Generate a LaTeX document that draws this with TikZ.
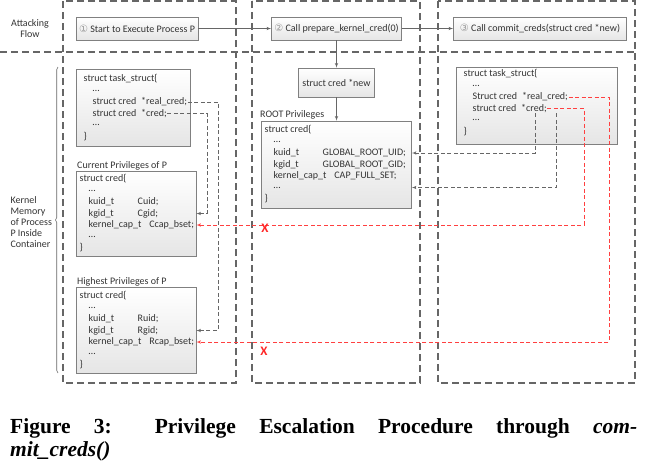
\documentclass[tikz,border=0pt]{standalone}
\usepackage{fontspec}
\setmainfont{Carlito}
\newfontfamily\circfont{DejaVu Sans}
\newfontfamily\capfont{Liberation Serif}
\usetikzlibrary{arrows,positioning,decorations.pathreplacing}
\newcommand{\credfield}[2]{\makebox[49pt][l]{#1}#2}

\begin{document}
\begin{tikzpicture}
  [x=1pt, y=-1pt, every node/.style={font=\fontsize{10}{11.2}\selectfont, text=black!80}]
  \tikzset{edge/.style = {> = latex', ->, draw=black!60, line width=0.6pt},
           ptr/.style = {edge, dash pattern=on 4pt off 2.5pt},
           hack/.style = {ptr, draw=red!75},
           lane/.style = {draw=black!60, line width=1.3pt, dash pattern=on 7pt off 4pt},
           box/.style = {draw=black!50, line width=0.6pt, top color=white, bottom color=black!10, inner sep=0pt},
           row/.style = {anchor=west, inner sep=0.5pt},
           cut/.style = {font=\bfseries\fontsize{13}{13}\selectfont, text=red!85, inner sep=0pt},
           caption/.style = {anchor=base west, inner sep=0pt, text=black, font=\capfont\bfseries\fontsize{21.5}{24}\selectfont}}
  \useasboundingbox (0,0) rectangle (647,467);

  \draw[lane] (63,1) rectangle (236,383);
  \draw[lane] (252,1) rectangle (420,383);
  \draw[lane] (438,1) rectangle (635,383);
  \draw[lane] (0,52) -- (637,52);

  \node[align=center] (flow) at (30,28.5) {Attacking\\Flow};
  \node[box, minimum width=122pt, minimum height=23pt] (s1) at (137,28.5) {{\circfont\color{black!40}①} Start to Execute Process P};
  \node[box, minimum width=130pt, minimum height=23pt] (s2) at (336.5,28.5) {{\circfont\color{black!40}②} Call prepare\_kernel\_cred(0)};
  \node[box, minimum width=173pt, minimum height=23pt] (s3) at (540,28.5) {{\circfont\color{black!40}③} Call commit\_creds(struct cred *new)};

  \node[align=left, anchor=west] (mem) at (7,222) {Kernel\\Memory\\of Process\\P Inside\\Container};
  \draw[black!60, line width=0.6pt, decorate, decoration={brace, amplitude=2.5pt}] (58,373) -- (58,67);

  \node[box, minimum width=114pt, minimum height=77pt] (tl) at (133,107.5) {};
  \node[anchor=west, inner sep=0pt] (curlbl) at (77,166) {Current Privileges of P};
  \node[box, minimum width=120pt, minimum height=85pt] (cur) at (136,213.5) {};
  \node[anchor=west, inner sep=0pt] (hilbl) at (77,282) {Highest Privileges of P};
  \node[box, minimum width=120pt, minimum height=86pt] (hi) at (136,330) {};
  \node[box, minimum width=76pt, minimum height=29pt] (new) at (336.5,82.5) {struct cred *new};
  \node[anchor=west, inner sep=0pt] (rootlbl) at (260,115) {ROOT Privileges};
  \node[box, minimum width=150pt, minimum height=87pt] (root) at (336.5,164.5) {};
  \node[box, minimum width=161pt, minimum height=77pt] (rt) at (536.5,105.5) {};

  \foreach \dx/\txt [count=\i] in {0/{struct task\_struct\{}, 9/{…}, 9/{struct cred\enspace*real\_cred;}, 9/{struct cred\enspace*cred;}, 9/{…}, 0/{\}}}
    \node[row] (tl\i) at (83+\dx, 79+11.5*\i-11.5) {\txt};
  \foreach \dx/\txt [count=\i] in {0/{struct cred\{}, 9/{…}, 9/{\credfield{kuid\_t}{Cuid;}}, 9/{\credfield{kgid\_t}{Cgid;}}, 9/{kernel\_cap\_t\hspace{8pt}Ccap\_bset;}, 9/{…}, 0/{\}}}
    \node[row] (cur\i) at (79+\dx, 179+11.5*\i-11.5) {\txt};
  \foreach \dx/\txt [count=\i] in {0/{struct cred\{}, 9/{…}, 9/{\credfield{kuid\_t}{Ruid;}}, 9/{\credfield{kgid\_t}{Rgid;}}, 9/{kernel\_cap\_t\hspace{8pt}Rcap\_bset;}, 9/{…}, 0/{\}}}
    \node[row] (hi\i) at (79+\dx, 296+11.5*\i-11.5) {\txt};
  \foreach \dx/\txt [count=\i] in {0/{struct cred\{}, 9/{…}, 9/{\credfield{kuid\_t}{GLOBAL\_ROOT\_UID;}}, 9/{\credfield{kgid\_t}{GLOBAL\_ROOT\_GID;}}, 9/{kernel\_cap\_t\hspace{8pt}CAP\_FULL\_SET;}, 9/{…}, 0/{\}}}
    \node[row] (root\i) at (264+\dx, 130+11.5*\i-11.5) {\txt};
  \foreach \dx/\txt [count=\i] in {0/{struct task\_struct\{}, 9/{…}, 9/{Struct cred\enspace*real\_cred;}, 9/{struct cred\enspace*cred;}, 9/{…}, 0/{\}}}
    \node[row] (rt\i) at (463+\dx, 74+11.5*\i-11.5) {\txt};

  \foreach \from/\to in {s1/s2,s2/s3,s2/new,new/root}
    \draw[edge] (\from) -- (\to);

  \coordinate (busA) at (218,0);
  \coordinate (busB) at (207,0);
  \coordinate (busC) at (535,0);
  \coordinate (busD) at (556,0);
  \coordinate (busE) at (584,0);
  \coordinate (busF) at (609,0);
  \draw[ptr] (tl3.east) -| (busA |- hi4) -- (hi4 -| hi.east);
  \draw[ptr] (tl4.east) -| (busB |- cur4) -- (cur4 -| cur.east);
  \draw[ptr] (busC |- rt4.south) |- (root3 -| root.east);
  \draw[ptr] (busD |- rt4.south) |- (root6 -| root.east);
  \draw[hack] (rt4.east) -| (busE |- cur5) -- (cur5 -| cur.east);
  \draw[hack] (rt3.east) -| (busF |- hi5) -- (hi5 -| hi.east);
  \node[cut] (cut1) at (265,228) {X};
  \node[cut] (cut2) at (264,351) {X};

  \node[caption] (cap1) at (10,433) {\makebox[627pt][s]{Figure 3: Privilege Escalation Procedure through \textit{com-}}};
  \node[caption] (cap2) at (10,456) {\textit{mit\_creds()}};
\end{tikzpicture}
\end{document}
